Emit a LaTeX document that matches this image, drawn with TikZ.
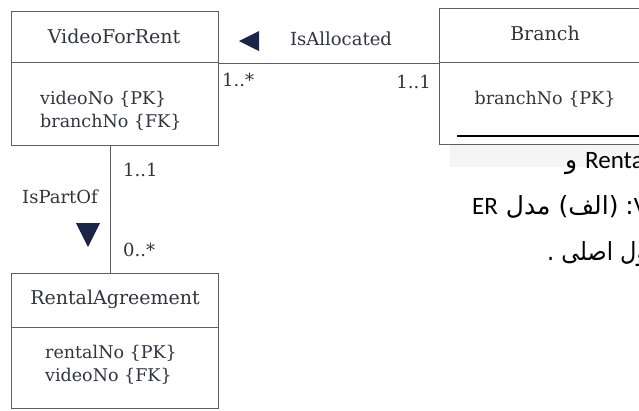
\documentclass[tikz,border=0pt]{standalone}
\usepackage{fontspec}
\setmainfont{DejaVu Serif}
\newfontfamily\arabicfont[Script=Arabic]{DejaVu Sans}
\newfontfamily\arabicnarrow[Script=Arabic,FakeStretch=0.9]{DejaVu Sans}
\newfontfamily\latinfont{Carlito}
\TeXXeTstate=1
\definecolor{linegray}{HTML}{5E5E62}
\definecolor{textgray}{HTML}{33333F}
\definecolor{trinavy}{HTML}{1B2547}
\tikzset{
  entpart/.style={draw=linegray, line width=1.4pt, inner sep=0pt, anchor=north west},
  umltext/.style={text=textgray, inner sep=0pt, font=\fontsize{18}{22}\selectfont},
  headtext/.style={text=textgray, inner sep=0pt, font=\fontsize{19}{22}\selectfont},
  attrtext/.style={text=textgray, inner sep=0pt, align=left, anchor=west, font=\fontsize{17.5}{23.5}\selectfont},
  assoc/.style={draw=linegray, line width=1.4pt},
  tri/.style={fill=trinavy},
  fatext/.style={inner sep=0pt, anchor=base west, text=black, font=\fontsize{25}{30}\selectfont}
}
\begin{document}
\begin{tikzpicture}[x=1pt,y=-1pt]
\useasboundingbox (0,0) rectangle (639,410);
\clip (0,0) rectangle (639,410);
% faint scan margin
\fill[black!4] (450,144) rectangle (639,167);
% VideoForRent
\node[entpart, minimum width=207pt, minimum height=51pt] (vfrhead) at (11,11) {};
\node[entpart, minimum width=207pt, minimum height=83pt] (vfrbody) at (11,62) {};
\node[headtext] (vfrname) at (114,36) {VideoForRent};
\node[attrtext] (vfrattr) at (40,111) {videoNo \{PK\}\\branchNo \{FK\}};
% Branch
\node[entpart, minimum width=212pt, minimum height=54pt] (brhead) at (439,8) {};
\node[entpart, minimum width=212pt, minimum height=82pt] (brbody) at (439,62) {};
\node[headtext] (brname) at (545,33) {Branch};
\node[attrtext, anchor=center] (brattr) at (545,99) {branchNo \{PK\}};
\draw[black, line width=2pt] (457,136) -- (645,136);
% RentalAgreement
\node[entpart, minimum width=207pt, minimum height=54pt] (rahead) at (11,273) {};
\node[entpart, minimum width=207pt, minimum height=81pt] (rabody) at (11,327) {};
\node[headtext] (raname) at (115,299) {RentalAgreement};
\node[attrtext] (raattr) at (45,365) {rentalNo \{PK\}\\videoNo \{FK\}};
% IsAllocated association
\draw[assoc] (vfrhead.south east) -- (brhead.south west);
\fill[tri] (239,41) -- (259,31) -- (259,51) -- cycle;
\node[umltext] (isalloc) at (341,39) {IsAllocated};
\node[umltext, anchor=west] (m1) at (222,80) {1..*};
\node[umltext, anchor=east] (m2) at (431,82) {1..1};
% IsPartOf association
\draw[assoc] ([xshift=-4.5pt]vfrbody.south) -- ([xshift=-4.5pt]rahead.north);
\fill[tri] (88,247) -- (76,223) -- (100,223) -- cycle;
\node[umltext] (ispart) at (60,197) {IsPartOf};
\node[umltext, anchor=west] (m3) at (123,170) {1..1};
\node[umltext, anchor=west] (m4) at (123,250) {0..*};
% Persian caption fragments
\node[fatext] (fa1) at (565,168) {\arabicfont\beginR{\latinfont\beginL Renta\endL}\ و\endR};
\node[fatext] (fa2) at (472,214) {\arabicfont\beginR{\latinfont\beginL V\endL}:\kern-1pt\ (الف) مدل {\latinfont\beginL ER\endL}\endR};
\node[fatext] (fa3) at (547,260) {\arabicnarrow\beginR ول اصلی .\endR};
\end{tikzpicture}
\end{document}
